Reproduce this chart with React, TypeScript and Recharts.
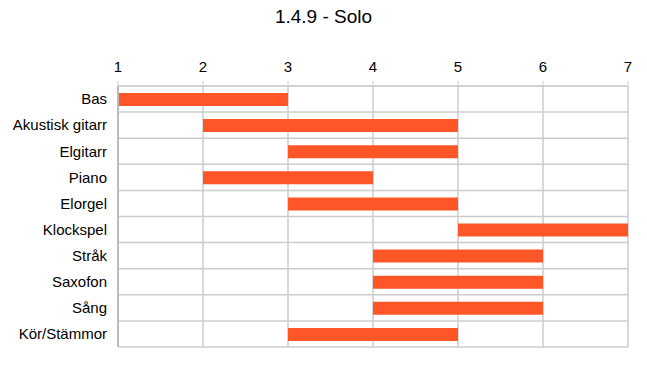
import { BarChart, Bar, XAxis, YAxis, CartesianGrid } from "recharts";

const instruments = ["Bas", "Akustisk gitarr", "Elgitarr", "Piano", "Elorgel", "Klockspel", "Stråk", "Saxofon", "Sång", "Kör/Stämmor"];
const starts = [1, 2, 3, 2, 3, 5, 4, 4, 4, 3];
const ends = [3, 5, 5, 4, 5, 7, 6, 6, 6, 5];
const levelTicks = [1, 2, 3, 4, 5, 6, 7];

const data = instruments.map((name, i) => ({ name, range: [starts[i], ends[i]] }));

const font = "'Liberation Sans', Arial, Helvetica, sans-serif";

export default function App() {
  const rowLines = ({ offset }: any) => {
    const out: number[] = [];
    for (let i = 0; i <= instruments.length; i++) {
      out.push(offset.top + (i * offset.height) / instruments.length);
    }
    return out;
  };

  return (
    <div style={{ position: "absolute", left: 0, top: 0, width: 647, height: 366, background: "#fff", fontFamily: font }}>
      <div style={{ position: "absolute", top: 6, left: 0, width: 647, textAlign: "center", fontSize: 19, color: "#000" }}>
        1.4.9 - Solo
      </div>
      <BarChart
        width={647}
        height={366}
        data={data}
        layout="vertical"
        margin={{ top: 56, right: 19, bottom: 19, left: 0 }}
        barSize={13}
      >
        <CartesianGrid stroke="#cccccc" strokeWidth={1.5} horizontalCoordinatesGenerator={rowLines} />
        <XAxis
          type="number"
          orientation="top"
          domain={[1, 7]}
          ticks={levelTicks}
          height={30}
          tickSize={5}
          tickMargin={9}
          axisLine={{ stroke: "#cccccc" }}
          tickLine={{ stroke: "#cccccc" }}
          tick={{ fill: "#000", fontSize: 15, fontFamily: font }}
          interval={0}
        />
        <YAxis
          type="category"
          dataKey="name"
          width={118}
          tickSize={5}
          tickMargin={6}
          tickLine={false}
          axisLine={{ stroke: "#bbbbbb", strokeWidth: 2 }}
          tick={{ fill: "#000", fontSize: 15, fontFamily: font }}
          interval={0}
        />
        <Bar dataKey="range" fill="#ff5627" isAnimationActive={false} />
      </BarChart>
    </div>
  );
}
